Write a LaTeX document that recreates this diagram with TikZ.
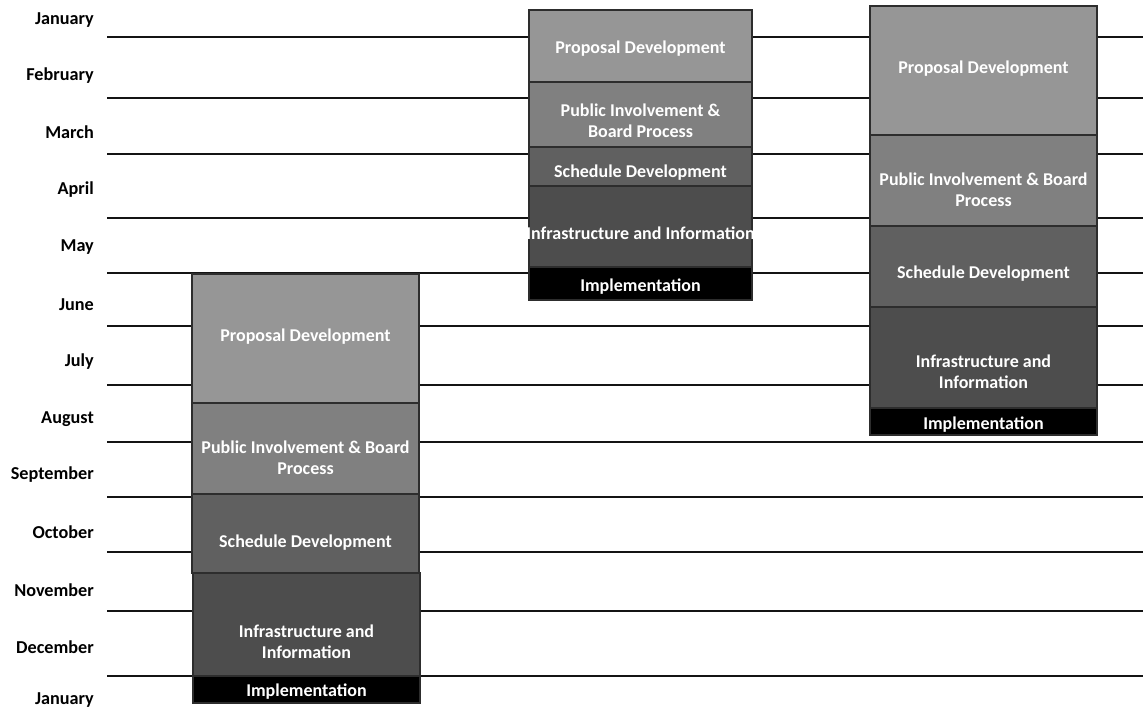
\documentclass[tikz,border=0pt]{standalone}
\usepackage{fontspec}
\setmainfont{Carlito}
\definecolor{cprop}{RGB}{150,150,150}
\definecolor{cpub}{RGB}{128,128,128}
\definecolor{csch}{RGB}{96,96,96}
\definecolor{cinf}{RGB}{77,77,77}
\definecolor{cimp}{RGB}{0,0,0}
\definecolor{segedge}{RGB}{45,45,45}
\newcommand\segbox[8]{%
  \node[seg, fill=#6, minimum width={(#4-#2)*1pt}, minimum height={(#5-#3)*1pt}] (#1) at (#2,#3) {};
  \node[lbl] (#1-t) at ({(#2+#4)/2},#7) {#8};}
\begin{document}
\begin{tikzpicture}[x=1pt,y=-1pt,
  month/.style={anchor=east, font=\bfseries\fontsize{18.2}{21}\selectfont, text=black, inner sep=0, yshift=-2pt},
  gridline/.style={line width=1.8pt, draw=black!92},
  seg/.style={draw=segedge, line width=1.1pt, anchor=north west, inner sep=0, outer sep=0},
  lbl/.style={text=white, font=\bfseries\fontsize{18}{21}\selectfont, align=center, inner sep=0, yshift=-2pt}]
\useasboundingbox (0,0) rectangle (1143,709);
% month labels
\foreach \m/\y [count=\i] in {January/18,February/74,March/130,April/188,May/245,June/303,July/360,August/417,September/473,October/530,November/588,December/645,January/698}
  \node[month] (m\i) at (94,\y) {\m};
% horizontal lines
\foreach \y [count=\i] in {37,98,154,218,273,326,385,442,497,552,611,676} {
  \coordinate (L\i a) at (107,\y);
  \coordinate (L\i b) at (1143,\y);
  \draw[gridline] (L\i a) -- (L\i b);
}
% left column
\segbox{a1}{192}{274}{419}{403}{cprop}{335}{Proposal Development}
\segbox{a2}{192}{403}{419}{494}{cpub}{456}{Public Involvement \& Board\\Process}
\segbox{a3}{192}{494}{419}{573}{csch}{541}{Schedule Development}
\segbox{a4}{193}{573}{420}{676}{cinf}{640}{Infrastructure and\\Information}
\segbox{a5}{193}{676}{420}{703}{cimp}{690}{Implementation}
% middle column
\segbox{b1}{529}{10}{752}{82}{cprop}{47}{Proposal Development}
\segbox{b2}{529}{82}{752}{147}{cpub}{119}{Public Involvement \&\\Board Process}
\segbox{b3}{529}{147}{752}{186}{csch}{171}{Schedule Development}
\segbox{b4}{529}{186}{752}{267}{cinf}{231}{Infrastructure and Information}
\segbox{b5}{529}{267}{752}{300}{cimp}{285}{Implementation}
% right column
\segbox{c1}{870}{6}{1097}{135}{cprop}{67}{Proposal Development}
\segbox{c2}{870}{135}{1097}{226}{cpub}{188}{Public Involvement \& Board\\Process}
\segbox{c3}{870}{226}{1097}{307}{csch}{272}{Schedule Development}
\segbox{c4}{870}{307}{1097}{408}{cinf}{370}{Infrastructure and\\Information}
\segbox{c5}{870}{408}{1097}{435}{cimp}{423}{Implementation}
\end{tikzpicture}
\end{document}
